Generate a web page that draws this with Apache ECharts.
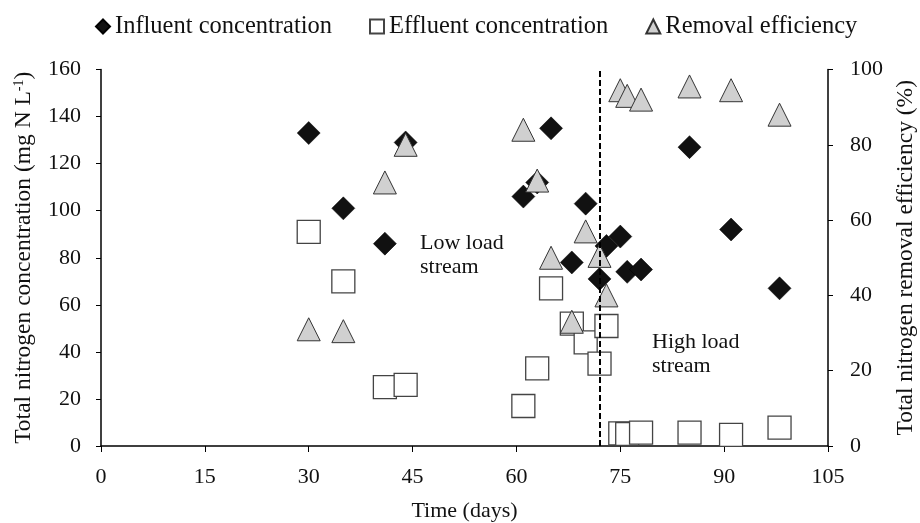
<!DOCTYPE html>
<html><head><meta charset="utf-8">
<script src="https://cdn.jsdelivr.net/npm/echarts@6/dist/echarts.min.js"></script>
<style>html,body{margin:0;padding:0;background:#fff}#c{width:920px;height:523px}</style>
</head><body><div id="c"></div>
<script>
const influentDays = [30, 35, 41, 44, 61, 63, 65, 68, 70, 72, 73, 75, 76, 78, 85, 91, 98];
const influentValues = [133, 101, 86, 129, 106, 112, 135, 78, 103, 71, 85, 89, 74, 75, 127, 92, 67];
const effluentDays = [30, 35, 41, 44, 61, 63, 65, 68, 70, 72, 73, 75, 76, 78, 85, 91, 98];
const effluentValues = [91, 70, 25, 26, 17, 33, 67, 52, 44, 35, 51, 5.4, 5.1, 5.7, 5.7, 4.7, 7.8];
const removalDays = [30, 35, 41, 44, 61, 63, 65, 68, 70, 72, 73, 75, 76, 78, 85, 91, 98];
const removalValues = [31, 30.5, 70, 80, 84, 70.5, 50, 33, 57, 50.5, 40, 94.5, 93, 92, 95.5, 94.5, 88];
const xTicks = [0, 15, 30, 45, 60, 75, 90, 105];
const leftTicks = [0, 20, 40, 60, 80, 100, 120, 140, 160];
const rightTicks = [0, 20, 40, 60, 80, 100];
const switchDay = 72;

const FONT = 'Liberation Serif';
const TXT = '#111';
const pair = (xs, ys) => xs.map((x, i) => [x, ys[i]]);
const chart = echarts.init(document.getElementById('c'), null, {renderer: 'canvas'});
const axisLineStyle = {color: '#000', width: 1.5};
chart.setOption({
  animation: false,
  textStyle: {fontFamily: FONT},
  grid: {left: 101, right: 92, top: 69.5, bottom: 77, containLabel: false, outerBoundsMode: 'none'},
  legend: {
    left: 90, top: 9, itemWidth: 14, itemHeight: 14, itemGap: 37,
    textStyle: {fontFamily: FONT, fontSize: 24.5, color: TXT},
    data: ['Influent concentration', 'Effluent concentration', 'Removal efficiency']
  },
  xAxis: {
    type: 'value', min: xTicks[0], max: xTicks[xTicks.length - 1], interval: 15,
    axisLine: {lineStyle: axisLineStyle}, splitLine: {show: false},
    axisTick: {length: 6, lineStyle: {color: '#000'}},
    axisLabel: {fontFamily: FONT, fontSize: 22, color: TXT, margin: 20},
    name: 'Time (days)', nameLocation: 'middle', nameGap: 54,
    nameTextStyle: {fontFamily: FONT, fontSize: 22, color: TXT}
  },
  yAxis: [{
    type: 'value', min: leftTicks[0], max: leftTicks[leftTicks.length - 1], interval: 20,
    axisLine: {show: true, lineStyle: axisLineStyle}, splitLine: {show: false},
    axisTick: {show: true, length: 5, lineStyle: {color: '#000'}},
    axisLabel: {fontFamily: FONT, fontSize: 22, color: TXT, margin: 20},
    name: '{a|Total nitrogen concentration (mg N L}{s|-1}{a|)}', nameLocation: 'middle', nameGap: 65,
    nameTextStyle: {fontFamily: FONT, fontSize: 23.5, color: TXT,
      rich: {a: {fontFamily: FONT, fontSize: 23.5, color: TXT},
             s: {fontFamily: FONT, fontSize: 14, color: TXT, verticalAlign: 'top', padding: [0, 0, 9, 0]}}}
  }, {
    type: 'value', min: rightTicks[0], max: rightTicks[rightTicks.length - 1], interval: 20,
    position: 'right',
    axisLine: {show: true, lineStyle: axisLineStyle}, splitLine: {show: false},
    axisTick: {show: true, length: 5, lineStyle: {color: '#000'}},
    axisLabel: {fontFamily: FONT, fontSize: 22, color: TXT, margin: 22},
    name: 'Total nitrogen removal efficiency (%)', nameLocation: 'middle', nameGap: 66,
    nameTextStyle: {fontFamily: FONT, fontSize: 23.5, color: TXT}
  }],
  series: [{
    name: 'Influent concentration', type: 'scatter', yAxisIndex: 0,
    symbol: 'diamond', symbolSize: 23,
    itemStyle: {color: '#111', borderColor: '#000', borderWidth: 0.5, opacity: 1},
    data: pair(influentDays, influentValues),
    markLine: {
      silent: true, symbol: ['none', 'none'], label: {show: false},
      lineStyle: {color: '#000', type: [6, 3], width: 2, opacity: 1},
      data: [{xAxis: switchDay}]
    }
  }, {
    name: 'Effluent concentration', type: 'scatter', yAxisIndex: 0,
    symbol: 'rect', symbolSize: 23,
    itemStyle: {color: '#fff', borderColor: '#444', borderWidth: 1.3, opacity: 1},
    data: pair(effluentDays, effluentValues)
  }, {
    name: 'Removal efficiency', type: 'scatter', yAxisIndex: 1,
    symbol: 'triangle', symbolSize: 23,
    itemStyle: {color: '#d0d0d0', borderColor: '#333', borderWidth: 1, opacity: 1},
    data: pair(removalDays, removalValues)
  }],
  graphic: [
    {type: 'text', left: 420, top: 231, style: {text: 'Low load\nstream', fontFamily: FONT, fontSize: 22, lineHeight: 24, fill: TXT}},
    {type: 'text', left: 652, top: 330, style: {text: 'High load\nstream', fontFamily: FONT, fontSize: 22, lineHeight: 24, fill: TXT}}
  ]
});
</script></body></html>
